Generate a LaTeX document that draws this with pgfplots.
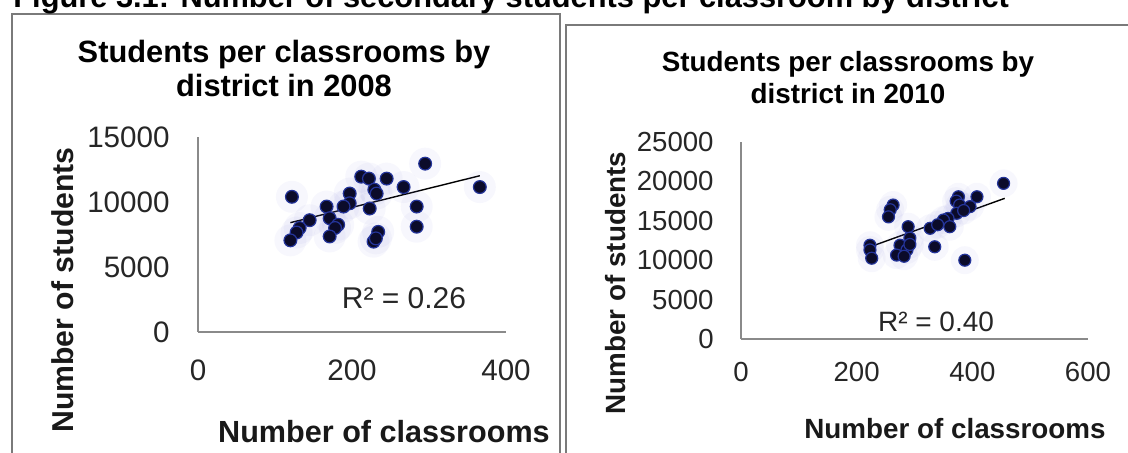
\documentclass[border=0pt]{standalone}
\usepackage{fontspec}
\setmainfont{Liberation Sans}
\usepackage{pgfplots}
\pgfplotsset{compat=1.18}
\definecolor{dotfill}{HTML}{0B0B2A}
\definecolor{dotrim}{HTML}{24349A}
\definecolor{halo}{HTML}{6A6AD0}
\definecolor{axgray}{HTML}{8A8A8A}
\definecolor{boxgray}{HTML}{7A7A7A}
\begin{document}
\begin{tikzpicture}[x=0.5pt,y=-0.5pt]
\useasboundingbox (0,0) rectangle (1128,453);
% panel frames
\draw[boxgray, line width=0.8pt] (12,470) -- (12,14) -- (560,14) -- (560,470);
\draw[boxgray, line width=1pt] (566,470) -- (566,25) -- (1140,25);
% main title (top cut off as in the reference)
\node[anchor=base west, inner sep=0pt, font=\fontsize{15.4}{18}\selectfont\bfseries] at (13,8) {Figure 3.1: Number of secondary students per classroom by district};

% ---------------- left axis (2008)
\begin{axis}[
  at={(99pt,-166pt)}, anchor=south west,
  scale only axis, width=154pt, height=97.5pt,
  xmin=0, xmax=400, ymin=0, ymax=15000,
  scaled ticks=false,
  axis lines=left,
  axis line style={-, draw=axgray, line width=0.8pt},
  major tick length=0pt,
  xtick={0,200,400}, xticklabels={0,200,400},
  ytick={0,5000,10000,15000}, yticklabels={0,5000,10000,15000},
  xticklabel style={anchor=center, inner sep=0pt, yshift=-19pt, font=\fontsize{14.8}{16}\selectfont, text=black!85},
  yticklabel style={anchor=east, inner sep=0pt, xshift=-14pt, font=\fontsize{14.8}{16}\selectfont, text=black!85},
  clip=false,
]
\addplot[only marks, mark=*, mark size=8pt, mark options={draw opacity=0, fill=halo, fill opacity=0.05}] coordinates {
(122,10400) (295,12950) (366,11150) (212,11950) (222,11800) (245,11800) (267,11150)
(229,10950) (232,10650) (197,10650) (197,9900) (189,9650) (167,9650) (223,9500)
(284,9650) (284,8100) (145,8600) (171,8750) (182,8250) (178,8000) (132,8000)
(128,7650) (120,7050) (171,7350) (234,7700) (228,6950) (231,7200)
};
\addplot[only marks, mark=*, mark size=3.2pt, mark options={fill=dotfill, draw=dotrim, line width=0.6pt}] coordinates {
(122,10400) (295,12950) (366,11150) (212,11950) (222,11800) (245,11800) (267,11150)
(229,10950) (232,10650) (197,10650) (197,9900) (189,9650) (167,9650) (223,9500)
(284,9650) (284,8100) (145,8600) (171,8750) (182,8250) (178,8000) (132,8000)
(128,7650) (120,7050) (171,7350) (234,7700) (228,6950) (231,7200)
};
\addplot[black, line width=0.7pt] coordinates {(120,8410) (366,12020)};
\end{axis}

% ---------------- right axis (2010)
\begin{axis}[
  at={(370.5pt,-169.5pt)}, anchor=south west,
  scale only axis, width=173.5pt, height=98.5pt,
  xmin=0, xmax=600, ymin=0, ymax=25000,
  scaled ticks=false,
  axis lines=left,
  axis line style={-, draw=axgray, line width=0.8pt},
  major tick length=0pt,
  xtick={0,200,400,600}, xticklabels={0,200,400,600},
  ytick={0,5000,10000,15000,20000,25000}, yticklabels={0,5000,10000,15000,20000,25000},
  xticklabel style={anchor=center, inner sep=0pt, yshift=-16.5pt, font=\fontsize{13.8}{15}\selectfont, text=black!85},
  yticklabel style={anchor=east, inner sep=0pt, xshift=-13.5pt, font=\fontsize{13.8}{15}\selectfont, text=black!85},
  clip=false,
]
\addplot[only marks, mark=*, mark size=7pt, mark options={draw opacity=0, fill=halo, fill opacity=0.05}] coordinates {
(454,19750) (376,18050) (408,18050) (372,17500) (378,17000) (396,16800) (373,15950)
(385,16300) (358,15300) (350,15100) (361,14250) (327,14050) (340,14500) (263,17000)
(258,16400) (255,15500) (289,14250) (292,12800) (275,11900) (287,11300) (269,10650)
(282,10500) (223,11900) (223,11300) (226,10250) (335,11700) (387,10000) (292,12000)
};
\addplot[only marks, mark=*, mark size=3pt, mark options={fill=dotfill, draw=dotrim, line width=0.6pt}] coordinates {
(454,19750) (376,18050) (408,18050) (372,17500) (378,17000) (396,16800) (373,15950)
(385,16300) (358,15300) (350,15100) (361,14250) (327,14050) (340,14500) (263,17000)
(258,16400) (255,15500) (289,14250) (292,12800) (275,11900) (287,11300) (269,10650)
(282,10500) (223,11900) (223,11300) (226,10250) (335,11700) (387,10000) (292,12000)
};
\addplot[black, line width=0.7pt] coordinates {(232,11930) (456,17850)};
\end{axis}

% ---------------- texts, left panel
\node[anchor=base, inner sep=0pt, font=\fontsize{15.4}{18}\selectfont\bfseries] at (284,63) {Students per classrooms by};
\node[anchor=base, inner sep=0pt, font=\fontsize{15.4}{18}\selectfont\bfseries] at (284,97) {district in 2008};
\node[anchor=base, inner sep=0pt, font=\fontsize{15.3}{18}\selectfont\bfseries, text=black!90] at (384,443) {Number of classrooms};
\node[anchor=base, rotate=90, inner sep=0pt, font=\fontsize{15.1}{18}\selectfont\bfseries, text=black!90] at (73.5,290) {Number of students};
\node[anchor=center, inner sep=0pt, font=\fontsize{15}{18}\selectfont, text=black!85] at (404,298) {R² = 0.26};

% ---------------- texts, right panel
\node[anchor=base, inner sep=0pt, font=\fontsize{13.9}{16}\selectfont\bfseries] at (848,72) {Students per classrooms by};
\node[anchor=base, inner sep=0pt, font=\fontsize{13.9}{16}\selectfont\bfseries] at (848,104) {district in 2010};
\node[anchor=base, inner sep=0pt, font=\fontsize{13.9}{16}\selectfont\bfseries, text=black!90] at (955,438) {Number of classrooms};
\node[anchor=base, rotate=90, inner sep=0pt, font=\fontsize{13.9}{16}\selectfont\bfseries, text=black!90] at (625,283) {Number of students};
\node[anchor=center, inner sep=0pt, font=\fontsize{14}{16}\selectfont, text=black!85] at (936,322) {R² = 0.40};
\end{tikzpicture}
\end{document}
